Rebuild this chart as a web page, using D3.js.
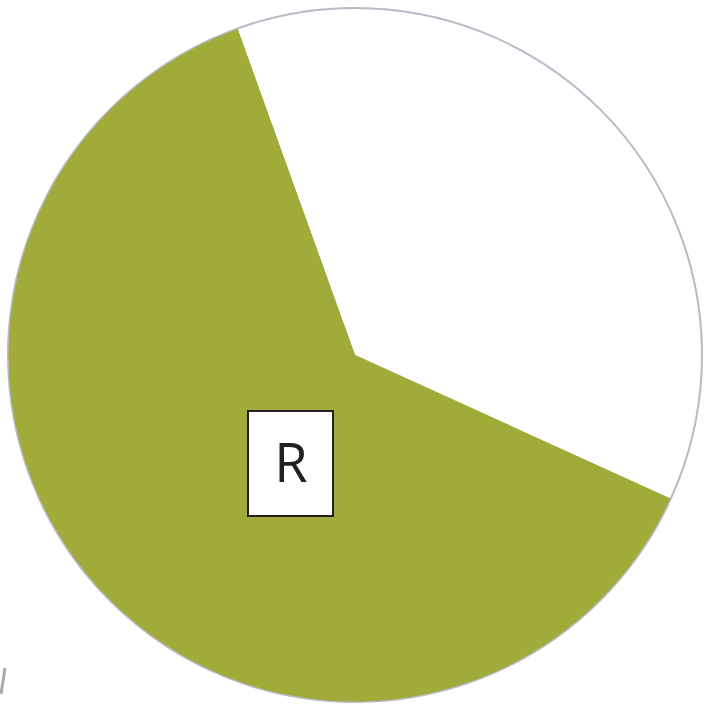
<!DOCTYPE html>
<html>
<head>
<meta charset="utf-8">
<script src="https://cdn.jsdelivr.net/npm/d3@7"></script>
<style>
  html, body { margin: 0; padding: 0; background: #fff; }
  svg { display: block; }
</style>
</head>
<body>
<svg id="chart" width="716" height="704"></svg>
<script>
// Slice data (percent shares)
var categories = ['Other', 'R'];
var shares = [37.3, 62.7];
var sliceColors = ['#ffffff', '#a0ab3a'];

var width = 716, height = 704;
var cx = 355, cy = 355, radius = 347;

var svg = d3.select('#chart');

var pie = d3.pie()
    .sort(null)
    .value(function(d) { return d; })
    .startAngle(-19.8 * Math.PI / 180)
    .endAngle((360 - 19.8) * Math.PI / 180);

var arc = d3.arc().innerRadius(0).outerRadius(radius);

var g = svg.append('g')
    .attr('transform', 'translate(' + cx + ',' + cy + ')');

g.selectAll('path.slice')
    .data(pie(shares))
    .enter().append('path')
    .attr('class', 'slice')
    .attr('d', arc)
    .attr('fill', function(d, i) { return sliceColors[i]; });

// thin grey rim
g.append('circle')
    .attr('r', radius)
    .attr('fill', 'none')
    .attr('stroke', '#b9bac8')
    .attr('stroke-width', 2);

// redraw green on top of rim so rim shows mostly on white part
g.append('path')
    .datum(pie(shares)[1])
    .attr('d', d3.arc().innerRadius(0).outerRadius(radius - 0.5))
    .attr('fill', sliceColors[1]);

// label box
var box = svg.append('g').attr('transform', 'translate(290,463)');
box.append('rect')
    .attr('x', -42).attr('y', -52)
    .attr('width', 85).attr('height', 105)
    .attr('fill', '#fff')
    .attr('stroke', '#231f20')
    .attr('stroke-width', 2);
box.append('text')
    .attr('text-anchor', 'middle')
    .attr('x', 1)
    .attr('y', 19)
    .style('font-family', '"Open Sans", "Noto Sans", sans-serif')
    .style('font-size', '54px')
    .style('fill', '#231f20')
    .text(categories[1]);

// small stray mark at bottom-left edge
svg.append('line')
    .attr('x1', 1).attr('y1', 694)
    .attr('x2', 5).attr('y2', 668)
    .attr('stroke', '#555')
    .attr('stroke-width', 3)
    .attr('opacity', 0.5);
</script>
</body>
</html>
